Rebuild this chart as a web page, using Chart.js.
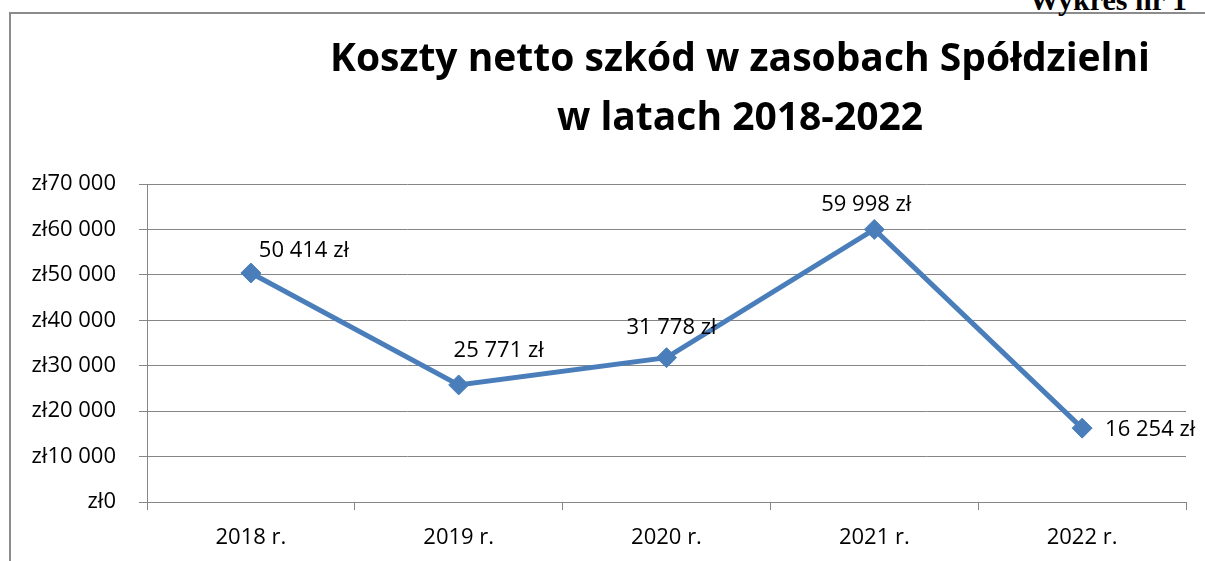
<!DOCTYPE html>
<html lang="pl">
<head>
<meta charset="utf-8">
<title>Koszty netto szkód</title>
<script src="https://cdn.jsdelivr.net/npm/chart.js@4/dist/chart.umd.min.js"></script>
<style>
  html, body { margin: 0; padding: 0; background: #fff; overflow: hidden; width: 1205px; height: 561px; }
  #frame { position: absolute; left: 9px; top: 12px; width: 1600px; height: 700px;
           border-left: 2px solid #8c8c8c; border-top: 2px solid #8c8c8c; }
  #docLabel { position: absolute; right: 18px; top: -15px; font: bold 30px "Liberation Serif", serif;
              line-height: 30px; color: #000; white-space: nowrap; }
  #chart { position: absolute; left: 0; top: 0; }
</style>
</head>
<body>
<div id="frame"></div>
<div id="docLabel">Wykres nr 1</div>
<canvas id="chart" width="1480" height="580"></canvas>
<script>
// --- data ---
const years = ['2018 r.', '2019 r.', '2020 r.', '2021 r.', '2022 r.'];
const netCosts = [50414, 25771, 31778, 59998, 16254];
const yTicks = [0, 10000, 20000, 30000, 40000, 50000, 60000, 70000];
const titleLines = ['Koszty netto szkód w zasobach Spółdzielni', 'w latach 2018-2022'];

const FONT = '"Open Sans", "Noto Sans", sans-serif';
const GRID = '#868686';
const BLUE = '#4A7EBB';

// 50414 -> "50 414"
const groupDigits = n => String(n).replace(/\B(?=(\d{3})+(?!\d))/g, ' ');

// value labels next to each point (Excel placed them by hand)
const pointLabels = {
    id: 'pointLabels',
    afterDatasetsDraw(chart, args, opts) {
        const ctx = chart.ctx;
        const meta = chart.getDatasetMeta(0);
        ctx.save();
        ctx.font = opts.font;
        ctx.fillStyle = '#000';
        ctx.textBaseline = 'middle';
        meta.data.forEach((pt, i) => {
            const [dx, dy, align] = opts.offsets[i];
            ctx.textAlign = align;
            ctx.fillText(groupDigits(netCosts[i]) + ' zł', pt.x + dx, pt.y + dy);
        });
        ctx.restore();
    }
};

new Chart(document.getElementById('chart'), {
    type: 'line',
    data: {
        labels: years,
        datasets: [{
            data: netCosts,
            borderColor: BLUE,
            borderWidth: 5,
            tension: 0,
            fill: false,
            pointStyle: 'rectRot',
            pointRadius: 10,
            pointBorderWidth: 1,
            pointBackgroundColor: BLUE,
            pointBorderColor: BLUE
        }]
    },
    options: {
        responsive: false,
        devicePixelRatio: 1,
        animation: false,
        layout: { padding: { left: 0, right: 0, top: 0, bottom: 18 } },
        plugins: {
            legend: { display: false },
            tooltip: { enabled: false },
            title: {
                display: true,
                text: titleLines,
                color: '#000',
                font: { family: FONT, size: 39, weight: 'bold', lineHeight: 1.513 },
                padding: { top: 30.5, bottom: 35.5 }
            },
            pointLabels: {
                font: '22px ' + FONT,
                offsets: [[53, -22, 'center'], [40, -34, 'center'], [5, -30, 'center'], [-8, -25, 'center'], [23, 2, 'left']]
            }
        },
        scales: {
            x: {
                offset: true,
                grid: { offset: true, drawOnChartArea: false, drawTicks: true, tickLength: 8, color: GRID },
                border: { color: GRID },
                ticks: { color: '#000', padding: 15, font: { family: FONT, size: 22 } },
                afterFit: s => { s.height = 60; }
            },
            y: {
                min: yTicks[0],
                max: yTicks[yTicks.length - 1],
                afterBuildTicks: s => { s.ticks = yTicks.map(v => ({ value: v })); },
                grid: { color: GRID, tickLength: 8 },
                border: { color: GRID },
                ticks: {
                    color: '#000',
                    padding: 23,
                    font: { family: FONT, size: 22 },
                    callback: v => 'zł' + groupDigits(v)
                },
                afterFit: s => { s.width = 147; }
            },
            // empty spacer on the right: the chart frame runs past the crop, so the title centres further right
            spacer: {
                type: 'linear',
                position: 'right',
                grid: { display: false },
                border: { display: false },
                ticks: { display: false },
                afterFit: s => { s.width = 294; }
            }
        }
    },
    plugins: [pointLabels]
});
</script>
</body>
</html>
